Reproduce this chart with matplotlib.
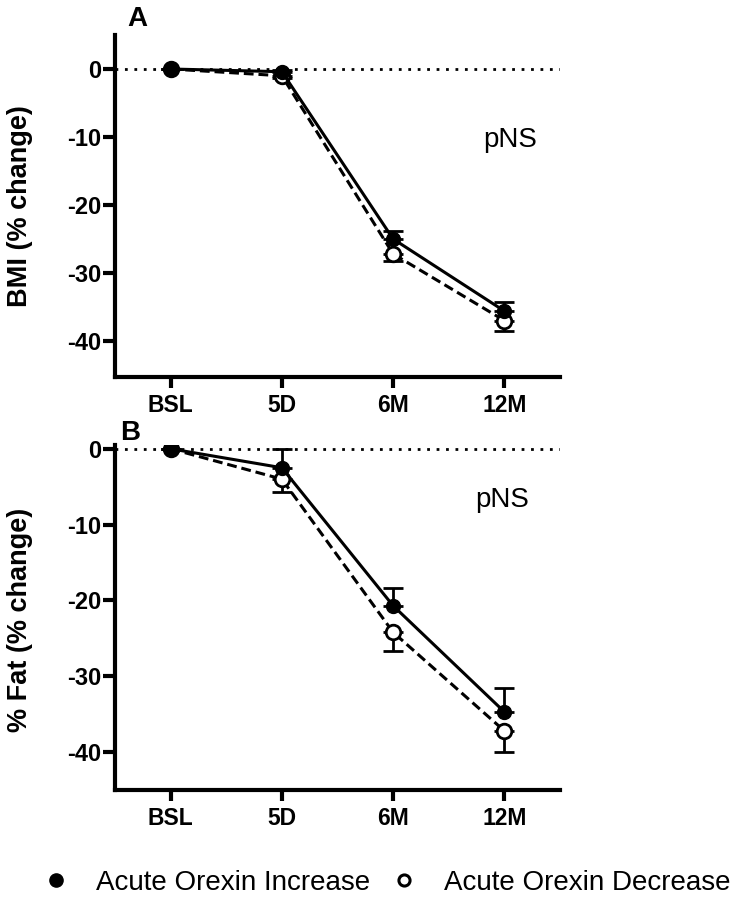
import matplotlib
matplotlib.use("Agg")
import matplotlib.pyplot as plt
from matplotlib.lines import Line2D

categories = ["BSL", "5D", "6M", "12M"]

bmi_increase = [0, -0.4, -25.0, -35.6]
bmi_increase_err = [0, 0.3, 1.1, 1.3]
bmi_decrease = [0, -1.0, -27.2, -37.0]
bmi_decrease_err = [0, 0.3, 1.1, 1.5]

fat_increase = [0, -2.5, -20.7, -34.7]
fat_increase_err = [0, 2.5, 2.4, 3.2]
fat_decrease = [0, -4.0, -24.2, -37.2]
fat_decrease_err = [0, 1.7, 2.5, 2.8]

yticks = [0, -10, -20, -30, -40]

plt.rcParams['font.family'] = ['Liberation Sans', 'DejaVu Sans']

fig = plt.figure(figsize=(7.37, 9.0), dpi=100)
axA = fig.add_axes([115/737, 1-377/900, 445/737, 342/900])
axB = fig.add_axes([115/737, 1-790/900, 445/737, 345/900])

LW = 2.2

def draw(ax, inc, inc_err, dec, dec_err, ylim, ylabel, letter, pns_xy, label_y):
    x = list(range(len(categories)))
    ax.axhline(0, color="black", lw=2.0, ls=(0, (1, 2.4)), zorder=1)
    ax.errorbar(x, dec, yerr=[dec_err, [0]*len(dec_err)], color="black", lw=LW,
                ls=(0, (3.2, 1.6)), marker="o", ms=10.5, mfc="white", mec="black", mew=2.0,
                capsize=7, capthick=2.0, elinewidth=2.0, zorder=3)
    ax.errorbar(x, inc, yerr=[[0]*len(inc_err), inc_err], color="black", lw=LW,
                ls="-", marker="o", ms=10, mfc="black", mec="black",
                capsize=7, capthick=2.0, elinewidth=2.0, zorder=4)
    ax.set_xlim(-0.5, 3.5)
    ax.set_ylim(*ylim)
    ax.set_xticks(x)
    ax.set_xticklabels(categories, fontsize=16.5, fontweight="bold")
    ax.set_yticks(yticks)
    ax.set_yticklabels([str(v) for v in yticks], fontsize=17, fontweight="bold")
    ax.spines["top"].set_visible(False)
    ax.spines["right"].set_visible(False)
    for s in ("left", "bottom"):
        ax.spines[s].set_linewidth(3)
    ax.tick_params(axis="y", width=3, length=9, pad=1)
    ax.tick_params(axis="x", width=3, length=8, pad=4)
    ax.set_ylabel(ylabel, fontsize=19.5, fontweight="bold")
    ax.yaxis.set_label_coords(-82/445, label_y, transform=ax.transAxes)
    ax.text(pns_xy[0], pns_xy[1], "pNS", fontsize=20, ha="center", va="center",
            transform=ax.transData)
    fig.text(letter[1], letter[2], letter[0], fontsize=20, fontweight="bold",
             ha="center", va="center")

draw(axA, bmi_increase, bmi_increase_err, bmi_decrease, bmi_decrease_err,
     (-45.3, 5), "BMI (% change)", ("A", 137/737, 1-19/900), (3.05, -10.5), 0.5)
draw(axB, fat_increase, fat_increase_err, fat_decrease, fat_decrease_err,
     (-45, 0.5), "% Fat (% change)", ("B", 130/737, 1-433/900), (2.98, -6.7),
     (790-620)/345)

handles = [
    Line2D([], [], ls="none", marker="o", ms=9.5, mfc="black", mec="black"),
    Line2D([], [], ls="none", marker="o", ms=8, mfc="white", mec="black", mew=2.2),
]
fig.legend(handles, ["Acute Orexin Increase", "Acute Orexin Decrease"],
           loc="center", bbox_to_anchor=(0.522, 1-883/900), ncol=2, frameon=False,
           prop={"size": 20}, handletextpad=0.85, columnspacing=0.6,
           handlelength=1.2)

fig.savefig("out.png", dpi=100)
